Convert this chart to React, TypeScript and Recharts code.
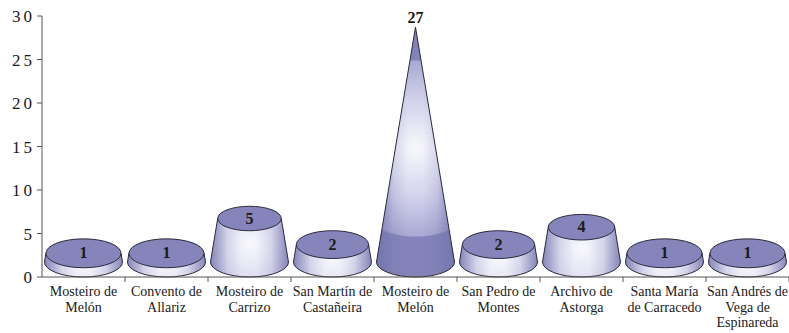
import { Bar, BarChart, XAxis, YAxis } from 'recharts';

// archive names, split in the lines the axis shows
const categories = [
  'Mosteiro de\nMelón',
  'Convento de\nAllariz',
  'Mosteiro de\nCarrizo',
  'San Martín de\nCastañeira',
  'Mosteiro de\nMelón',
  'San Pedro de\nMontes',
  'Archivo de\nAstorga',
  'Santa María\nde Carracedo',
  'San Andrés de\nVega de\nEspinareda',
];
const counts = [1, 1, 5, 2, 27, 2, 4, 1, 1];
const yTicks = [0, 5, 10, 15, 20, 25, 30];

const data = categories.map((name, i) => ({ name, value: counts[i] }));
const maxValue = Math.max(...counts);

const FONT = 'Liberation Serif';
const DEPTH = 15; // 3d offset of the base ellipse above the axis line
const RY_RATIO = 0.385;
const BAND = 747 / categories.length;

const ConeShape = (props: any) => {
  const { x, y, width, height, payload, index } = props;
  const v: number = payload.value;
  const cx = x + width / 2;
  const R = width / 2;
  const r = R * (1 - v / maxValue);
  const by = y + height - DEPTH;
  const ty = y - DEPTH;
  const Ry = R * RY_RATIO;
  const ry = r * RY_RATIO;
  const midY = (ty + by) / 2 + 4;
  const gid = `coneBody${index}`;
  const body = `M${cx - R},${by} L${cx - r},${ty} L${cx + r},${ty} L${cx + R},${by} A${R},${Ry} 0 0 1 ${cx - R},${by} Z`;
  return (
    <g>
      <defs>
        <radialGradient id={gid} gradientUnits="userSpaceOnUse" cx={cx} cy={midY} r={92}>
          <stop offset="0" stopColor="#f8f8fd" />
          <stop offset="0.55" stopColor="#d0d0ea" />
          <stop offset="0.95" stopColor="#a9a9d3" />
          <stop offset="0.965" stopColor="#8484ba" />
          <stop offset="1" stopColor="#8383b9" />
        </radialGradient>
      </defs>
      <path d={body} fill={`url(#${gid})`} stroke="none" />
      <path d={body} fill="url(#coneSide)" stroke="#2a2a3c" strokeWidth={1} />
      {r > 0.5 && (
        <ellipse cx={cx} cy={ty} rx={r} ry={ry} fill="#8585bb" stroke="#2a2a3c" strokeWidth={1} />
      )}
      <text
        x={cx}
        y={r > 0.5 ? ty + 5 : ty - 4}
        textAnchor="middle"
        fontFamily={FONT}
        fontWeight="bold"
        fontSize={16}
        fill="#1a1a1a"
      >
        {v}
      </text>
    </g>
  );
};

const YTick = ({ y, payload }: any) => (
  <g>
    <line x1={37} x2={42} y1={y} y2={y} stroke="#555" />
    <text x={35} y={y + 6} textAnchor="end" fontFamily={FONT} fontSize={17} letterSpacing={3} fill="#1a1a1a">
      {payload.value}
    </text>
  </g>
);

const XTick = ({ x, payload }: any) => {
  const lines = String(payload.value).split('\n');
  return (
    <g>
      <line x1={x + BAND / 2} x2={x + BAND / 2} y1={277} y2={282} stroke="#555" />
      <text x={x} y={296} textAnchor="middle" fontFamily={FONT} fontSize={14} fill="#1a1a1a">
        {lines.map((line, i) => (
          <tspan key={i} x={x} dy={i === 0 ? 0 : 15.5}>
            {line}
          </tspan>
        ))}
      </text>
    </g>
  );
};

export default function App() {
  return (
    <div style={{ position: 'absolute', left: 0, top: 0, background: '#fff' }}>
      <BarChart
        width={789}
        height={333}
        data={data}
        margin={{ top: 16, right: 0, left: 0, bottom: 0 }}
        barCategoryGap="3%"
      >
        <defs>
          <linearGradient id="coneSide" x1="0" y1="0" x2="1" y2="0">
            <stop offset="0" stopColor="#7272ad" stopOpacity={0.8} />
            <stop offset="0.22" stopColor="#7272ad" stopOpacity={0.15} />
            <stop offset="0.4" stopColor="#7272ad" stopOpacity={0} />
            <stop offset="0.6" stopColor="#7272ad" stopOpacity={0} />
            <stop offset="0.78" stopColor="#7272ad" stopOpacity={0.15} />
            <stop offset="1" stopColor="#7272ad" stopOpacity={0.8} />
          </linearGradient>
        </defs>
        <XAxis
          dataKey="name"
          height={56}
          interval={0}
          tick={XTick}
          tickLine={false}
          axisLine={{ stroke: '#555' }}
        />
        <YAxis
          width={42}
          domain={[0, 30]}
          ticks={yTicks}
          interval={0}
          tick={YTick}
          tickLine={false}
          axisLine={{ stroke: '#555' }}
        />
        <Bar dataKey="value" shape={ConeShape} isAnimationActive={false} />
      </BarChart>
    </div>
  );
}
